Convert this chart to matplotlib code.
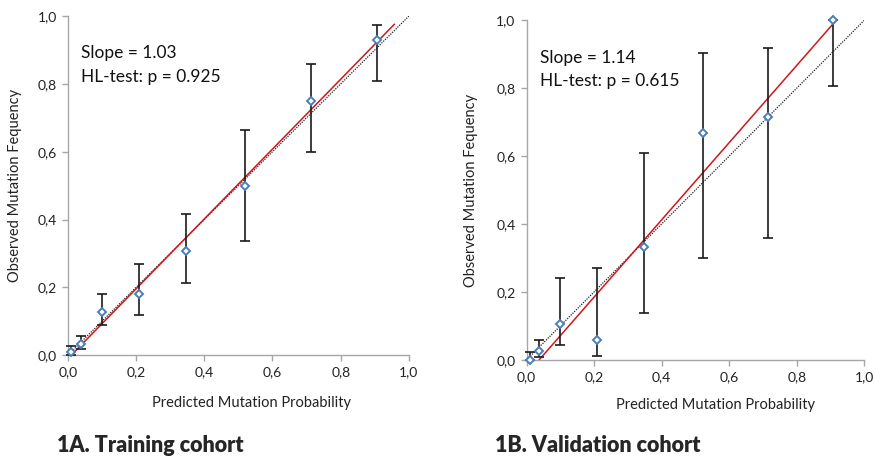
import numpy as np
import matplotlib
matplotlib.use("Agg")
import matplotlib.pyplot as plt
from matplotlib.ticker import FuncFormatter

plt.rcParams['font.family'] = ['Lato', 'DejaVu Sans']

# training cohort (1A)
train_pred = [0.009, 0.039, 0.100, 0.209, 0.347, 0.520, 0.714, 0.906]
train_obs = [0.010, 0.034, 0.127, 0.182, 0.307, 0.499, 0.749, 0.928]
train_lo = [0.000, 0.019, 0.088, 0.118, 0.213, 0.336, 0.598, 0.809]
train_hi = [0.026, 0.058, 0.181, 0.268, 0.417, 0.663, 0.858, 0.974]
train_slope = 1.03
train_icpt = -0.0103
train_fit_x = [0.010, 0.957]

# validation cohort (1B)
valid_pred = [0.009, 0.038, 0.099, 0.209, 0.347, 0.521, 0.715, 0.908]
valid_obs = [0.000, 0.025, 0.105, 0.059, 0.333, 0.667, 0.714, 1.000]
valid_lo = [0.000, 0.007, 0.043, 0.011, 0.139, 0.301, 0.360, 0.806]
valid_hi = [0.024, 0.059, 0.241, 0.270, 0.608, 0.903, 0.918, 1.000]
valid_slope = 1.137
valid_icpt = -0.0426
valid_fit_x = [0.0375, 0.917]

ticks = [0.0, 0.2, 0.4, 0.6, 0.8, 1.0]

fig = plt.figure(figsize=(8.75, 4.57), dpi=100)

def comma(v, pos):
    return ("%.1f" % v).replace(".", ",")

def calib_panel(rect, pred, obs, lo, hi, slope, icpt, fit_x, slope_txt, p_txt, ylab_x):
    ax = fig.add_axes(rect)
    pred = np.array(pred)
    obs = np.array(obs)
    err = [obs - np.array(lo), np.array(hi) - obs]
    ax.plot([0, 1], [0, 1], color='#222222', linestyle=(0, (1, 1)), lw=0.9, zorder=1)
    fx = np.array(fit_x)
    ax.plot(fx, slope * fx + icpt, color='#d0161b', lw=1.1, zorder=2)
    eb = ax.errorbar(pred, obs, yerr=err, fmt='none', ecolor='#1a1a1a', elinewidth=1.2,
                     capsize=3.5, capthick=1.2, zorder=3)
    for art in eb.lines[1] + eb.lines[2]:
        art.set_clip_on(False)
    ax.plot(pred, obs, linestyle='none', marker='D', markersize=4, mfc='white',
            mec='#4a7ebb', mew=1.4, zorder=4, clip_on=False)
    ax.set_xlim(0, 1)
    ax.set_ylim(0, 1)
    ax.set_xticks(ticks)
    ax.set_yticks(ticks)
    ax.xaxis.set_major_formatter(FuncFormatter(comma))
    ax.yaxis.set_major_formatter(FuncFormatter(comma))
    for s in ['top', 'right']:
        ax.spines[s].set_visible(False)
    for s in ['left', 'bottom']:
        ax.spines[s].set_color('#a6a6a6')
        ax.spines[s].set_linewidth(1.0)
    ax.tick_params(axis='both', direction='out', length=4, width=1.0, color='#a6a6a6',
                   labelsize=10, labelcolor='#222222', pad=4)
    ax.set_ylabel('Observed Mutation Fequency', fontsize=10.5, color='#222222')
    ax.yaxis.set_label_coords(ylab_x, 0.5)
    ax.text(0.04, 0.89, slope_txt, transform=ax.transAxes, fontsize=12.5, color='#111111',
            va='center')
    ax.text(0.04, 0.82, p_txt, transform=ax.transAxes, fontsize=12.5, color='#111111',
            va='center')
    return ax

calib_panel([0.0774, 0.2225, 0.3900, 0.7425], train_pred, train_obs, train_lo, train_hi,
            train_slope, train_icpt, train_fit_x, 'Slope = 1.03', 'HL-test: p = 0.925', -0.135)
calib_panel([0.6019, 0.2129, 0.3858, 0.7427], valid_pred, valid_obs, valid_lo, valid_hi,
            valid_slope, valid_icpt, valid_fit_x, 'Slope = 1.14', 'HL-test: p = 0.615', -0.143)

fig.text(252 / 875, 1 - 403 / 457, 'Predicted Mutation Probability', ha='center', va='center',
         fontsize=10.5, color='#222222')
fig.text(715 / 875, 1 - 405 / 457, 'Predicted Mutation Probability', ha='center', va='center',
         fontsize=10.5, color='#222222')

fig.text(57 / 875, 1 - 446 / 457, '1A. Training cohort', ha='left', va='center',
         fontsize=15.5, fontweight='heavy', color='#262626')
fig.text(495 / 875, 1 - 446 / 457, '1B. Validation cohort', ha='left', va='center',
         fontsize=15.5, fontweight='heavy', color='#262626')

fig.savefig('out.png', dpi=100)
